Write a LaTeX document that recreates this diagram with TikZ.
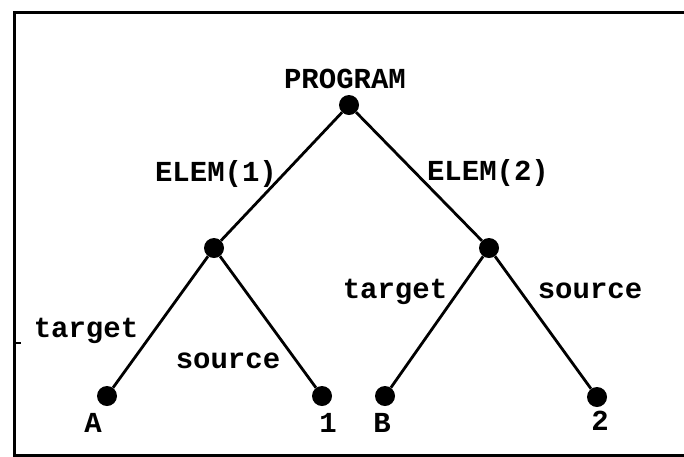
\documentclass[tikz,border=0pt]{standalone}
\usepackage{fontspec}
\newfontfamily\tw{Liberation Mono}
\begin{document}
\begin{tikzpicture}[x=1pt,y=-1pt,
  dot/.style={circle,fill=black,inner sep=0pt,minimum width=19pt,minimum height=20pt},
  lbl/.style={font=\tw\bfseries\fontsize{29}{30}\selectfont,inner sep=0pt,anchor=base},
  edge/.style={line width=2.8pt},
  boxline/.style={line width=3pt}]
\useasboundingbox (0,0) rectangle (684,456);
% frame
\draw[boxline] (700,12) -- (14,12) -- (14,455) -- (700,455);
\draw[line width=1.5pt] (14,343) -- (21,343);
% dots
\node[dot] (root) at (349,105) {};
\node[dot] (m1) at (214,248) {};
\node[dot] (m2) at (489,248) {};
\node[dot] (a) at (107,396) {};
\node[dot] (one) at (322,396) {};
\node[dot] (b) at (385,396) {};
\node[dot] (two) at (597,397) {};
% edges
\draw[edge] (root) -- (m1);
\draw[edge] (root) -- (m2);
\draw[edge] (m1) -- (a);
\draw[edge] (m1) -- (one);
\draw[edge] (m2) -- (b);
\draw[edge] (m2) -- (two);
% labels
\node[lbl] (lprog) at (345,88) {PROGRAM};
\node[lbl] (le1) at (216,181) {ELEM(1)};
\node[lbl] (le2) at (488,180) {ELEM(2)};
\node[lbl] (lt1) at (86,337) {target};
\node[lbl] (ls1) at (228,368) {source};
\node[lbl] (lt2) at (395,298) {target};
\node[lbl] (ls2) at (590,298) {source};
\node[lbl] (la) at (93,432) {A};
\node[lbl] (l1) at (328,432) {1};
\node[lbl] (lb) at (382,432) {B};
\node[lbl] (l2) at (600,430) {2};
\end{tikzpicture}
\end{document}
